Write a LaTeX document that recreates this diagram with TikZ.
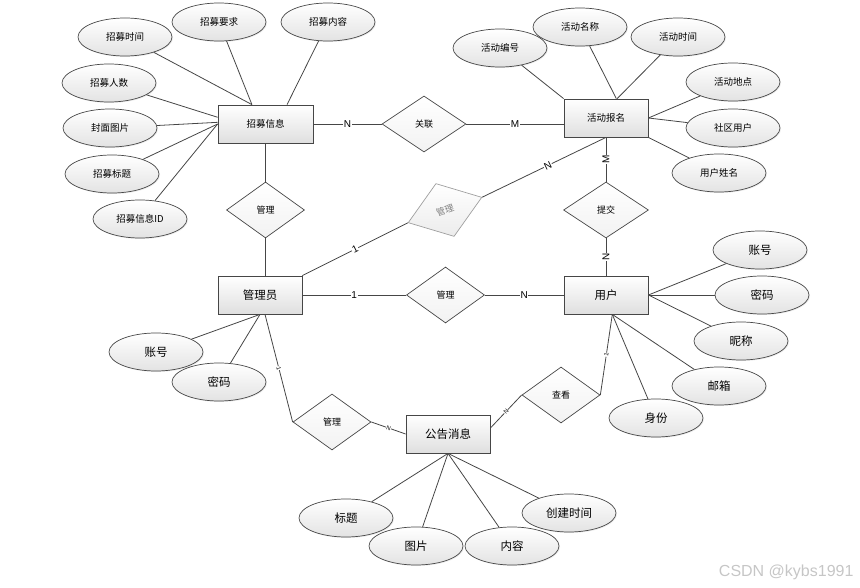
\documentclass[tikz,border=0pt]{standalone}
\usepackage{fontspec}
\setmainfont{Noto Sans CJK SC}
\newfontfamily\lblfont{Liberation Sans}
\usetikzlibrary{shapes.geometric,shadows,calc}
\begin{document}
\begin{tikzpicture}[x=1pt,y=-1pt,
  conn/.style={draw=gray!55!black, line width=0.8pt},
  ent/.style={rectangle, draw=gray!55!black, line width=0.8pt, top color=white, bottom color=gray!25,
    minimum width=84pt, minimum height=38pt, inner sep=0pt,
    drop shadow={shadow xshift=1.2pt, shadow yshift=-1.2pt, opacity=0.2}},
  attr/.style={ellipse, draw=gray!55!black, line width=0.7pt, top color=white, bottom color=gray!22,
    minimum width=94pt, minimum height=38pt, inner sep=0pt,
    drop shadow={shadow xshift=1pt, shadow yshift=-1pt, opacity=0.15}},
  rel/.style={diamond, draw=gray!55!black, line width=0.7pt, top color=white, bottom color=gray!10,
    minimum width=78pt, minimum height=56pt, inner sep=0pt, font=\fontsize{9}{11}\selectfont},
  sm/.style={font=\fontsize{9.5}{11}\selectfont},
  big/.style={font=\fontsize{11.5}{13}\selectfont},
  card/.style={fill=white, inner sep=0.6pt, font=\lblfont\fontsize{10}{12}\selectfont},
  tick/.style={fill=white, inner sep=0.3pt, font=\lblfont\fontsize{6}{7}\selectfont, sloped},
]
\useasboundingbox (0,0) rectangle (860,588);

% entities
\node[ent, minimum width=95pt, sm] (zm) at (265.5,124) {招募信息};
\node[ent, sm] (act) at (606,118) {活动报名};
\node[ent, big] (adm) at (260,295) {管理员};
\node[ent, big] (usr) at (606,295) {用户};
\node[ent, big] (gg) at (448,434) {公告消息};

% relationships
\node[rel, minimum width=84pt] (gl) at (424,124) {关联};
\node[rel] (m1) at (265.5,210) {管理};
\node[rel, minimum width=85pt] (tj) at (606,210) {提交};
\node[rel] (m2) at (445.5,295) {管理};
\node[rel] (m3) at (332,422) {管理};
\node[rel] (ck) at (561,395) {查看};
\node[rel, rotate=19, draw=gray!75, text=gray, bottom color=gray!15] (rd) at (445,210) {管理};

% attributes of 招募信息
\node[attr, sm] (a1) at (125,37) {招募时间};
\node[attr, sm] (a2) at (219,22) {招募要求};
\node[attr, sm] (a3) at (328,22) {招募内容};
\node[attr, sm] (a4) at (109,83) {招募人数};
\node[attr, sm] (a5) at (110,128) {封面图片};
\node[attr, sm] (a6) at (112,174) {招募标题};
\node[attr, sm] (a7) at (140,219) {招募信息ID};

% attributes of 活动报名
\node[attr, sm] (b1) at (500,48) {活动编号};
\node[attr, sm] (b2) at (580,27) {活动名称};
\node[attr, sm] (b3) at (678,37) {活动时间};
\node[attr, sm] (b4) at (733,82) {活动地点};
\node[attr, sm] (b5) at (733,128) {社区用户};
\node[attr, sm] (b6) at (719,173) {用户姓名};

% attributes of 管理员
\node[attr, big] (c1) at (156,352) {账号};
\node[attr, big] (c2) at (219,382) {密码};

% attributes of 用户
\node[attr, big] (d1) at (760,250) {账号};
\node[attr, big] (d2) at (762,295) {密码};
\node[attr, big] (d3) at (741,341) {昵称};
\node[attr, big] (d4) at (719,386) {邮箱};
\node[attr, big] (d5) at (656,418) {身份};

% attributes of 公告消息
\node[attr, big] (e1) at (346,518) {标题};
\node[attr, big] (e2) at (416,546) {图片};
\node[attr, big] (e3) at (512,546) {内容};
\node[attr, big] (e4) at (569,513) {创建时间};

% attribute connectors
\draw[conn] (a1) -- (zm.125);
\draw[conn] (a2) -- (zm.125);
\draw[conn] (a3) -- (zm.42);
\draw[conn] (a4) -- (zm.172);
\draw[conn] (a5) -- (zm.178);
\draw[conn] (a6) -- (zm.west);
\draw[conn] (a7) -- (zm.west);

\draw[conn] (b1) -- (act.north west);
\draw[conn] (b2) -- (act.62);
\draw[conn] (b3) -- (act.60);
\draw[conn] (b4) -- (act.east);
\draw[conn] (b5) -- (act.east);
\draw[conn] (b6) -- (act.south east);

\draw[conn] (c1) -- (adm.south);
\draw[conn] (c2) -- (adm.south);

\draw[conn] (d1) -- (usr.east);
\draw[conn] (d2) -- (usr.east);
\draw[conn] (d3) -- (usr.east);
\draw[conn] (d4) -- (usr.-72);
\draw[conn] (d5) -- (usr.-72);

\draw[conn] (e1) -- (gg.south);
\draw[conn] (e2) -- (gg.south);
\draw[conn] (e3) -- (gg.south);
\draw[conn] (e4) -- (gg.south);

% relationship connectors
\draw[conn] (zm.east) -- node[card] {N} (gl.west);
\draw[conn] (gl.east) -- node[card] {M} (gl.east -| act.west);
\draw[conn] (zm.south) -- (m1.north);
\draw[conn] (m1.south) -- (m1.south |- adm.north);
\draw[conn] (act.south) -- node[card, rotate=90] {M} (tj.north);
\draw[conn] (tj.south) -- node[card, rotate=90] {N} (usr.north);
\draw[conn] (adm.east) -- node[card] {1} (m2.west);
\draw[conn] (m2.east) -- node[card] {N} (usr.west);
\draw[conn] (adm.north east) -- node[card, sloped] {1} (rd.west);
\draw[conn] (rd.east) -- node[card, sloped, pos=0.53] {N} (act.south);
\draw[conn] ($(adm.south)+(5,0)$) -- node[tick] {1} (m3.west);
\draw[conn] (m3.east) -- node[tick] {N} (gg.west);
\draw[conn] (gg.8) -- node[tick] {N} (ck.west);
\draw[conn] (usr.-72) -- node[tick] {1} (ck.east);

% watermark
\node[anchor=east, text=gray!45, font=\lblfont\fontsize{16}{18}\selectfont] (wm) at (857,572) {CSDN @kybs1991};
\end{tikzpicture}
\end{document}
